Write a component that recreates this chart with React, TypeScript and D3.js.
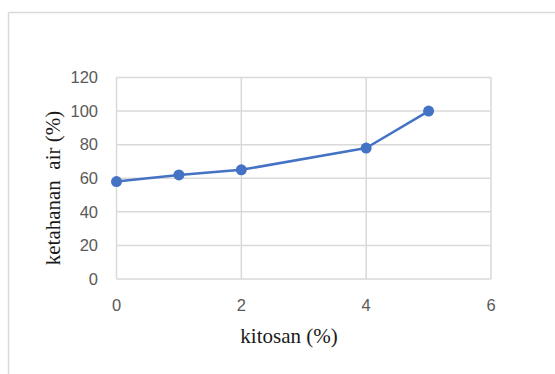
import React from "react";
import * as d3 from "d3";

const kitosan = [0, 1, 2, 4, 5];
const ketahananAir = [58, 62, 65, 78, 100];
const xTicks = [0, 2, 4, 6];
const yTicks = [0, 20, 40, 60, 80, 100, 120];

const W = 555;
const H = 374;
const plot = { left: 116.5, right: 491, top: 77.5, bottom: 279 };

export default function App() {
  const x = d3.scaleLinear().domain([0, 6]).range([plot.left, plot.right]);
  const y = d3.scaleLinear().domain([0, 120]).range([plot.bottom, plot.top]);
  const line = d3
    .line<number>()
    .x((_, i) => x(kitosan[i]))
    .y((d) => y(d));

  const grid = "#d9d9d9";
  const tickColor = "#595959";
  const blue = "#4472C4";

  return (
    <svg
      width={W}
      height={H}
      style={{ position: "absolute", left: 0, top: 0, background: "#fff" }}
    >
      {/* chart area frame */}
      <line x1={8.5} y1={12.5} x2={W} y2={12.5} stroke={grid} strokeWidth={1.5} />
      <line x1={8.5} y1={12.5} x2={8.5} y2={H} stroke={grid} strokeWidth={1.5} />

      {/* gridlines */}
      {yTicks.map((t) => (
        <line
          key={"gy" + t}
          x1={plot.left}
          x2={plot.right}
          y1={y(t)}
          y2={y(t)}
          stroke={grid}
          strokeWidth={1.5}
        />
      ))}
      {xTicks.map((t) => (
        <line
          key={"gx" + t}
          x1={x(t)}
          x2={x(t)}
          y1={plot.top}
          y2={plot.bottom}
          stroke={grid}
          strokeWidth={1.5}
        />
      ))}

      {/* tick labels */}
      {yTicks.map((t) => (
        <text
          key={"ty" + t}
          x={98}
          y={y(t)}
          dy="0.35em"
          textAnchor="end"
          fontFamily="'Liberation Sans', Arial, sans-serif"
          fontSize={16.5}
          fill={tickColor}
        >
          {t}
        </text>
      ))}
      {xTicks.map((t) => (
        <text
          key={"tx" + t}
          x={x(t)}
          y={305}
          dy="0.35em"
          textAnchor="middle"
          fontFamily="'Liberation Sans', Arial, sans-serif"
          fontSize={16.5}
          fill={tickColor}
        >
          {t}
        </text>
      ))}

      {/* series */}
      <path d={line(ketahananAir) ?? ""} fill="none" stroke={blue} strokeWidth={2.5} strokeLinejoin="round" />
      {ketahananAir.map((v, i) => (
        <circle key={"p" + i} cx={x(kitosan[i])} cy={y(v)} r={5.5} fill={blue} />
      ))}

      {/* axis titles */}
      <text
        x={289}
        y={343}
        textAnchor="middle"
        fontFamily="'Liberation Serif', 'Times New Roman', serif"
        fontSize={21}
        fill="#1a1a1a"
      >
        kitosan (%)
      </text>
      <text
        transform={`translate(60, 188) rotate(-90)`}
        textAnchor="middle"
        fontFamily="'Liberation Serif', 'Times New Roman', serif"
        fontSize={21}
        fill="#1a1a1a"
        style={{ whiteSpace: "pre" }}
      >
        {"ketahanan  air (%)"}
      </text>
    </svg>
  );
}
